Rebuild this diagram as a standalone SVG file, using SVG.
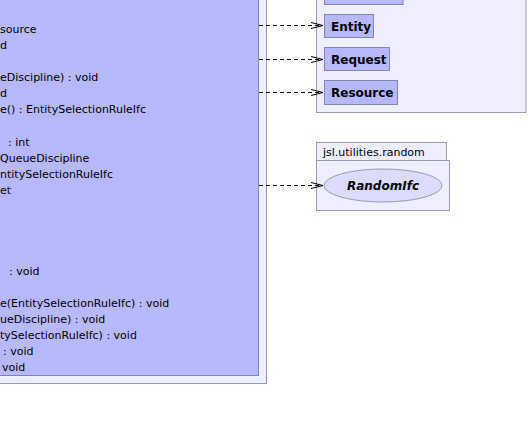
<svg xmlns="http://www.w3.org/2000/svg" width="528" height="421" viewBox="0 0 528 421">
<style>
.pkg{fill:#eeeeff;stroke:#9a9ab0;stroke-width:1}
.cls{fill:#b8b8ff;stroke:#8484a8;stroke-width:1}
.t{font-family:"DejaVu Sans",sans-serif;font-size:11px;fill:#000}
.b{font-family:"DejaVu Sans",sans-serif;font-size:12px;font-weight:bold;fill:#000}
.con{stroke:#000;stroke-width:1;stroke-dasharray:4,3;fill:none}
</style>
<defs>
<marker id="open" markerWidth="12" markerHeight="8" refX="12" refY="4" orient="auto" markerUnits="userSpaceOnUse">
<path d="M0,1 L12,4 L0,7" fill="none" stroke="#000" stroke-width="1"/>
</marker>
</defs>
<g id="pkg-main">
<rect class="pkg" x="-10" y="-10" width="276.5" height="393.5"/>
</g>
<g id="cls-main">
<rect class="cls" x="-10" y="-10" width="268.5" height="385.5"/>
<text class="t" x="0" y="33">source</text>
<text class="t" x="0" y="49">d</text>
<text class="t" x="0" y="81">eDiscipline) : void</text>
<text class="t" x="0" y="97">d</text>
<text class="t" x="0" y="113">e() : EntitySelectionRuleIfc</text>
<text class="t" x="8" y="146">: int</text>
<text class="t" x="0" y="162">QueueDiscipline</text>
<text class="t" x="0" y="178">ntitySelectionRuleIfc</text>
<text class="t" x="0" y="194">et</text>
<text class="t" x="9" y="275">: void</text>
<text class="t" x="0" y="307">e(EntitySelectionRuleIfc) : void</text>
<text class="t" x="0" y="323">ueDiscipline) : void</text>
<text class="t" x="0" y="339">tySelectionRuleIfc) : void</text>
<text class="t" x="3" y="355">: void</text>
<text class="t" x="2" y="371">void</text>
</g>
<g id="pkg-right">
<rect class="pkg" x="316.5" y="-10" width="209.5" height="122.5"/>
</g>
<g id="cls-top">
<rect class="cls" x="324.5" y="-10" width="78.5" height="14.5"/>
</g>
<g id="cls-entity">
<rect class="cls" x="324.5" y="14.5" width="49" height="23"/>
<text class="b" x="331" y="30.5">Entity</text>
</g>
<g id="cls-request">
<rect class="cls" x="324.5" y="47.5" width="65" height="23"/>
<text class="b" x="331" y="63.5">Request</text>
</g>
<g id="cls-resource">
<rect class="cls" x="324.5" y="80.5" width="73" height="24"/>
<text class="b" x="331" y="97">Resource</text>
</g>
<g id="pkg-random">
<rect class="pkg" x="316.5" y="142.5" width="130" height="18"/>
<rect class="pkg" x="316.5" y="160.5" width="133" height="50"/>
<text class="t" x="323" y="156">jsl.utilities.random</text>
</g>
<g id="if-random">
<ellipse cx="383" cy="185.5" rx="59" ry="16.5" fill="#dcdcff" stroke="#9a9ab0"/>
<text class="b" x="383" y="190" text-anchor="middle" font-style="italic">RandomIfc</text>
</g>
<g id="connectors">
<line class="con" x1="259" y1="25.5" x2="323" y2="25.5" marker-end="url(#open)"/>
<line class="con" x1="259" y1="59.5" x2="323" y2="59.5" marker-end="url(#open)"/>
<line class="con" x1="259" y1="92.5" x2="323" y2="92.5" marker-end="url(#open)"/>
<line class="con" x1="259" y1="185.5" x2="323" y2="185.5" marker-end="url(#open)"/>
</g>
</svg>
